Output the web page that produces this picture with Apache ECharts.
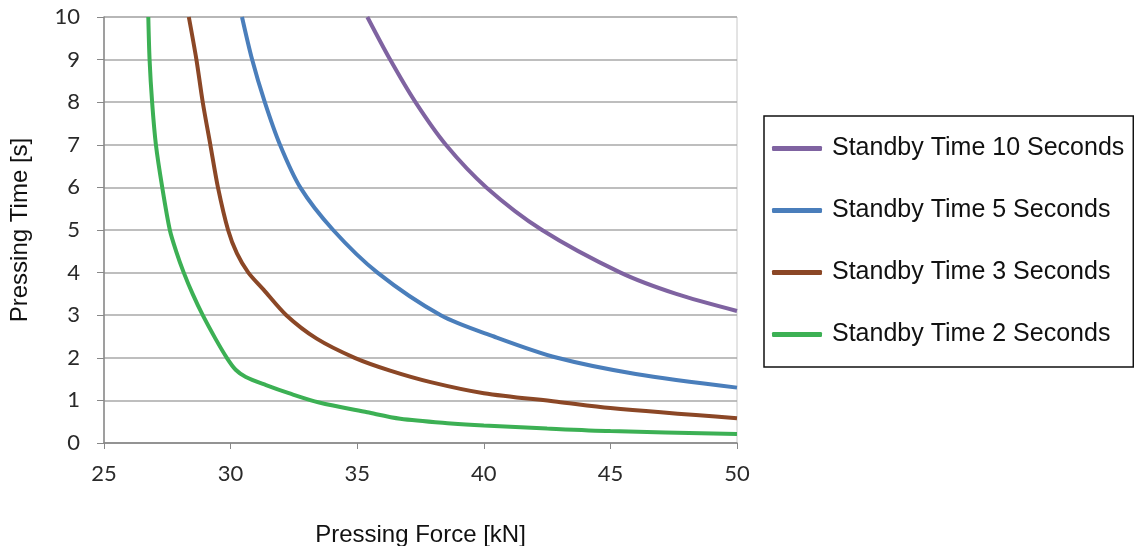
<!DOCTYPE html>
<html><head><meta charset="utf-8">
<script src="https://cdn.jsdelivr.net/npm/echarts@6/dist/echarts.min.js"></script>
<style>html,body{margin:0;padding:0;background:#fff}#c{width:1134px;height:546px}</style>
</head><body><div id="c"></div>
<script>
const seriesNames = ['Standby Time 10 Seconds','Standby Time 5 Seconds','Standby Time 3 Seconds','Standby Time 2 Seconds'];
const xTicks = [25,30,35,40,45,50];
const standby10 = [[35.4,10],[36.3,9],[37.3,8],[38.5,7],[40.1,6],[42.3,5],[45.4,4],[47.6,3.5],[50,3.1]];
const standby5 = [[30.45,10],[30.85,9],[31.35,8],[31.95,7],[32.75,6],[34.05,5],[35.8,4],[38.3,3],[40.4,2.5],[42.9,2],[46,1.62],[50,1.3]];
const standby3 = [[28.35,10],[28.65,9],[28.9,8],[29.2,7],[29.5,6],[29.9,5],[30.25,4.45],[30.7,4.0],[31.3,3.6],[32.2,3],[33.4,2.45],[34.9,2],[36.3,1.7],[37.9,1.43],[40,1.17],[42.9,0.97],[45,0.82],[50,0.58]];
const standby2 = [[26.75,10],[26.8,9],[26.9,8],[27.05,7],[27.3,6],[27.6,5],[27.85,4.5],[28.15,4.0],[28.5,3.5],[28.9,3],[29.4,2.45],[29.85,2],[30.2,1.72],[30.6,1.55],[31.4,1.36],[32.3,1.17],[33.5,0.95],[35.4,0.72],[36.7,0.57],[38.7,0.46],[40,0.41],[42.5,0.34],[45,0.28],[50,0.21]];
const colors = ['#7f63a1','#4a7ebb','#8b4726','#3cb054'];
const allData = [standby10, standby5, standby3, standby2];

const chart = echarts.init(document.getElementById('c'), null, {renderer:'canvas'});
chart.setOption({
  animation:false,
  backgroundColor:'#fff',
  grid:{left:104, right:397, top:17, bottom:103, outerBoundsMode:'none', containLabel:false,
    show:true, borderColor:'#c8c8c8', borderWidth:1},
  xAxis:{type:'value', min:25, max:50, interval:5,
    name:'Pressing Force [kN]', nameLocation:'middle', nameGap:80,
    nameTextStyle:{fontFamily:'Arial', fontSize:24, color:'#111'},
    axisLine:{show:true, lineStyle:{color:'#888', width:1.5}},
    axisTick:{show:true, length:6, lineStyle:{color:'#888'}},
    axisLabel:{fontFamily:'Lato', fontSize:22, color:'#2a2a2a', margin:20},
    splitLine:{show:false}},
  yAxis:{type:'value', min:0, max:10, interval:1,
    name:'Pressing Time [s]', nameLocation:'middle', nameGap:72, nameRotate:90,
    nameTextStyle:{fontFamily:'Arial', fontSize:24, color:'#111'},
    axisLine:{show:true, lineStyle:{color:'#888', width:1.5}},
    axisTick:{show:true, length:7, lineStyle:{color:'#888'}},
    axisLabel:{fontFamily:'Lato', fontSize:22, color:'#2a2a2a', margin:24},
    splitLine:{show:true, lineStyle:{color:'#a8a8a8', width:1.5}}},
  legend:{orient:'vertical', left:764, top:116, padding:[20,9,20,8],
    borderColor:'#111', borderWidth:1.5, itemGap:37, itemWidth:50, itemHeight:5,
    icon:'roundRect',
    textStyle:{fontFamily:'Arial', fontSize:25, color:'#111', lineHeight:25, padding:[0,0,0,5]},
    data:seriesNames},
  series: allData.map((d,i)=>({
    name:seriesNames[i], type:'line', data:d, smooth:0.3, showSymbol:false,
    lineStyle:{color:colors[i], width:4}, itemStyle:{color:colors[i]}, clip:true
  }))
});
</script></body></html>
